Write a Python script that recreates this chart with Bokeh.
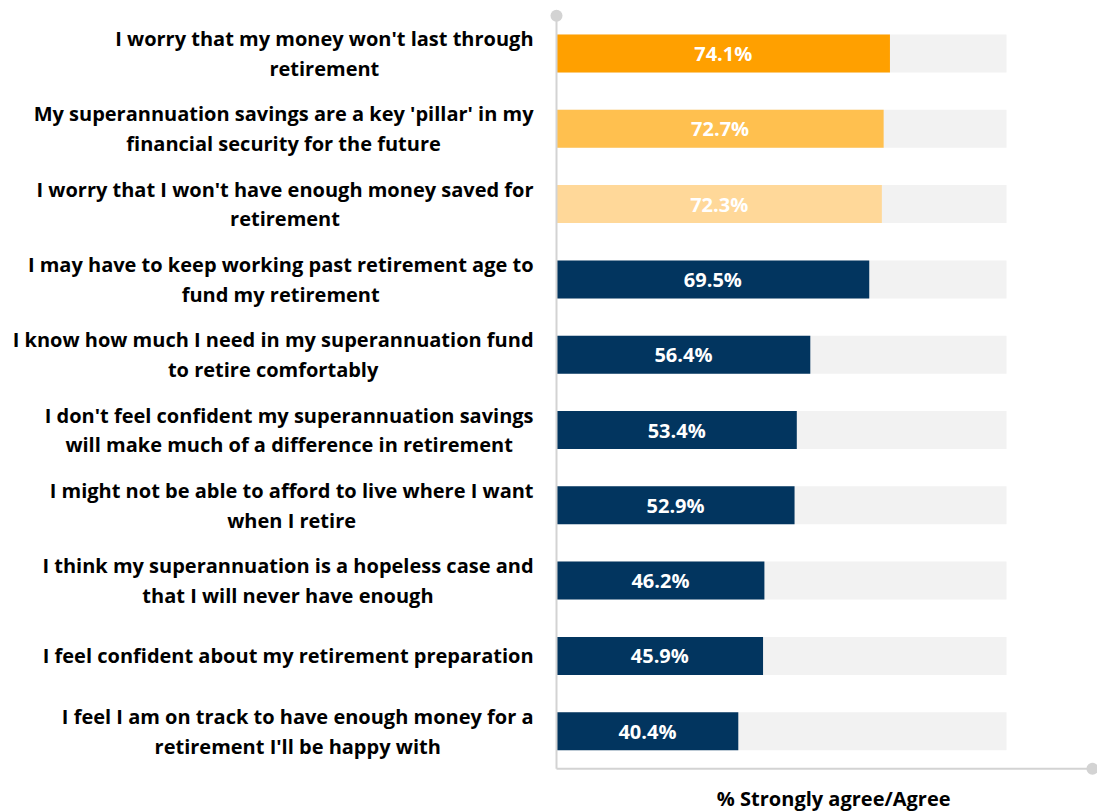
from bokeh.plotting import figure
from bokeh.models import Range1d, ColumnDataSource
from bokeh.core.properties import value
from bokeh.embed import file_html
from bokeh.resources import INLINE

statements = [
    "I worry that my money won't last through\nretirement",
    "My superannuation savings are a key 'pillar' in my\nfinancial security for the future",
    "I worry that I won't have enough money saved for\nretirement",
    "I may have to keep working past retirement age to\nfund my retirement",
    "I know how much I need in my superannuation fund\nto retire comfortably",
    "I don't feel confident my superannuation savings\nwill make much of a difference in retirement",
    "I might not be able to afford to live where I want\nwhen I retire",
    "I think my superannuation is a hopeless case and\nthat I will never have enough",
    "I feel confident about my retirement preparation",
    "I feel I am on track to have enough money for a\nretirement I'll be happy with",
]
agree_pct = [74.1, 72.7, 72.3, 69.5, 56.4, 53.4, 52.9, 46.2, 45.9, 40.4]
bar_colors = ["#FFA000", "#FFC04F", "#FFD899"] + ["#02355F"] * 7
axis_title = "% Strongly agree/Agree"
scale_max = 100

n = len(statements)
idx = list(range(n))

src = ColumnDataSource(dict(
    y=idx,
    pct=agree_pct,
    mid=[v / 2 for v in agree_pct],
    label=[f"{v:.1f}%" for v in agree_pct],
    text=statements,
    color=bar_colors,
))

W, H = 1097, 812
px_per_unit_x = 4.5
x0 = -556 / px_per_unit_x
x1 = x0 + W / px_per_unit_x
px_per_row = 75.3
y_top = -53 / px_per_row
y_bot = y_top + H / px_per_row

FONT = value("Open Sans")

p = figure(width=W, height=H, x_range=Range1d(x0, x1), y_range=Range1d(y_bot, y_top),
           output_backend="svg", toolbar_location=None,
           x_axis_type=None, y_axis_type=None, min_border=0)
p.min_border_left = p.min_border_right = p.min_border_top = p.min_border_bottom = 0
p.outline_line_color = None
p.background_fill_color = "white"
p.border_fill_color = "white"

# background 100% bars
p.hbar(y="y", left=0, right=scale_max, height=0.505, source=src,
       fill_color="#F2F2F2", line_color=None)
# value bars
p.hbar(y="y", left=0, right="pct", height=0.505, source=src,
       fill_color="color", line_color=None)

# value labels
p.text(x="mid", y="y", text="label", source=src, text_color="white",
       text_font=FONT, text_font_style="bold", text_font_size="20px",
       text_align="center", text_baseline="middle")

# statement labels
p.text(x=-5.1, y="y", text="text", source=src, text_color="black",
       text_font=FONT, text_font_style="bold", text_font_size="20px",
       text_align="center", text_baseline="middle", anchor=value("center_right"),
       text_line_height=1.10)

# axis lines with end circles
axis_col = "#D3D3D3"
p.segment(x0=[0, 0], y0=[-0.5, n - 0.5], x1=[0, 119.1], y1=[n - 0.5, n - 0.5],
          line_color=axis_col, line_width=2)
p.scatter(x=[0, 119.1], y=[-0.5, n - 0.5], size=12, fill_color=axis_col, line_color=None)

# axis title
p.text(x=[61.6], y=[9.894], text=[axis_title], text_color="black",
       text_font=FONT, text_font_style="bold", text_font_size="20px",
       text_align="center", text_baseline="middle")

open("out.html", "w").write(file_html(p, INLINE))
